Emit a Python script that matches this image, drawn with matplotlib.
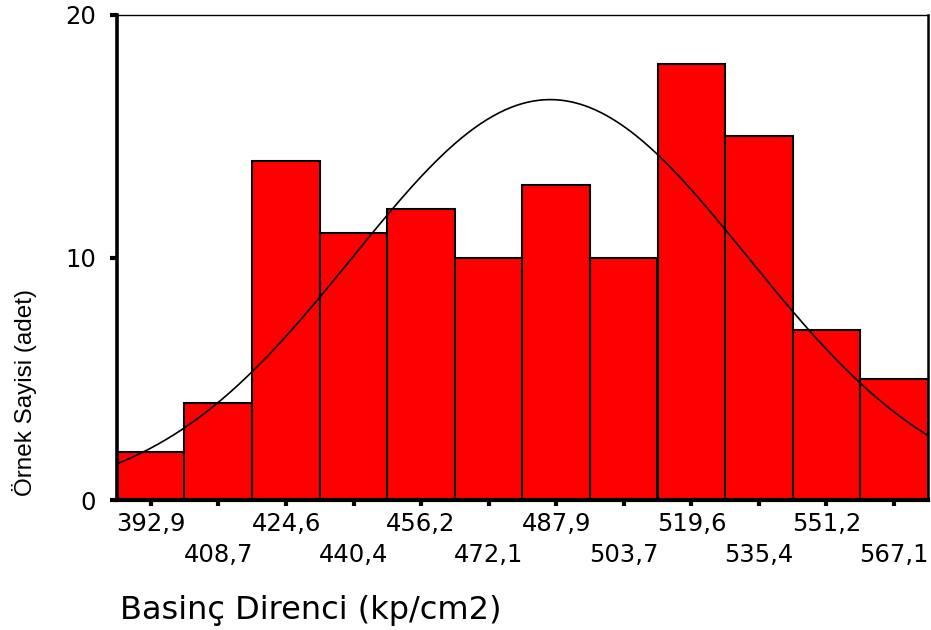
import numpy as np
import matplotlib
matplotlib.use("Agg")
import matplotlib.pyplot as plt

# Histogram of compressive strength measurements
bin_centers = [392.9, 408.7, 424.6, 440.4, 456.2, 472.1, 487.9, 503.7, 519.6, 535.4, 551.2, 567.1]
tick_labels = ["392,9", "408,7", "424,6", "440,4", "456,2", "472,1",
               "487,9", "503,7", "519,6", "535,4", "551,2", "567,1"]
counts = [2, 4, 14, 11, 12, 10, 13, 10, 18, 15, 7, 5]

# Normal curve fitted to the sample
fit_mean = 486.5
fit_sd = 46.3

bin_width = (bin_centers[-1] - bin_centers[0]) / (len(bin_centers) - 1)
n_total = sum(counts)
x_lo = bin_centers[0] - bin_width / 2
x_hi = bin_centers[-1] + bin_width / 2

fig = plt.figure(figsize=(9.31, 6.30), dpi=100)
ax = fig.add_axes([117 / 931, 1 - 500 / 630, (928 - 117) / 931, (500 - 15) / 630])

ax.bar(bin_centers, counts, width=bin_width, color="#ff0000",
       edgecolor="black", linewidth=1.5, align="center", zorder=2)

xs = np.linspace(x_lo, x_hi, 400)
ys = n_total * bin_width / (fit_sd * np.sqrt(2 * np.pi)) * np.exp(-0.5 * ((xs - fit_mean) / fit_sd) ** 2)
ax.plot(xs, ys, color="black", linewidth=1.2, zorder=3)

ax.set_xlim(x_lo, x_hi)
ax.set_ylim(0, 20)

for side, lw in (("left", 2.6), ("bottom", 3.0), ("right", 1.8), ("top", 1.0)):
    ax.spines[side].set_linewidth(lw)
    ax.spines[side].set_color("black")

tick_font = dict(family="DejaVu Sans", size=17.5)

ax.set_yticks([0, 10, 20])
ax.set_yticklabels(["0", "10", "20"], fontdict=tick_font)
ax.tick_params(axis="y", direction="out", length=5, width=3, pad=10)

ax.set_xticks(bin_centers[::2])
ax.set_xticklabels(tick_labels[::2], fontdict=tick_font)
ax.set_xticks(bin_centers[1::2], minor=True)
ax.set_xticklabels(tick_labels[1::2], minor=True, fontdict=tick_font)
ax.tick_params(axis="x", which="major", direction="out", length=4, width=3, pad=5)
ax.tick_params(axis="x", which="minor", direction="out", length=4, width=3, pad=27)

fig.text(25 / 931, 1 - 392 / 630, "Örnek Sayisi (adet)", rotation=90,
         ha="center", va="center", fontsize=17.5,
         family=["Liberation Sans Narrow", "Liberation Sans"])
fig.text(120 / 931, 1 - 610 / 630, "Basinç Direnci (kp/cm2)",
         ha="left", va="center", fontsize=23, family="DejaVu Sans")

fig.savefig("out.png", dpi=100)
